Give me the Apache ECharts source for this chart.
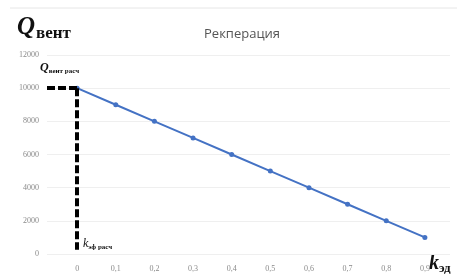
<!DOCTYPE html>
<html>
<head>
<meta charset="utf-8">
<script src="https://cdn.jsdelivr.net/npm/echarts@6/dist/echarts.min.js"></script>
<style>
  html, body { margin: 0; padding: 0; background: #fff; }
  #chart { width: 457px; height: 279px; }
</style>
</head>
<body>
<div id="chart"></div>
<script>
// коэффициент эффективности рекуператора
const kValues = [0, 0.1, 0.2, 0.3, 0.4, 0.5, 0.6, 0.7, 0.8, 0.9];
// расход вентиляционного воздуха
const qValues = [10000, 9000, 8000, 7000, 6000, 5000, 4000, 3000, 2000, 1000];
const qDesign = 10000;
const kDesign = 0;

let myChart = echarts.init(document.getElementById('chart'));

let option = {
  animation: false,
  title: {
    text: 'Рекперация',
    left: 237,
    textAlign: 'center',
    top: 23,
    textStyle: { fontFamily: 'Open Sans', fontSize: 13, fontWeight: 'normal', color: '#555' }
  },
  grid: { left: 47, right: 7, top: 55, bottom: 25 },
  xAxis: {
    type: 'value',
    min: -0.078,
    max: 0.965,
    axisLine: { show: false },
    axisTick: { show: false },
    splitLine: { show: false },
    axisLabel: {
      customValues: kValues,
      color: '#8a8a8a',
      fontSize: 8,
      fontFamily: 'Liberation Serif',
      margin: 11,
      formatter: v => String(Math.round(v * 10) / 10).replace('.', ',')
    }
  },
  yAxis: {
    type: 'value',
    min: 0,
    max: 12000,
    interval: 2000,
    axisLine: { show: false },
    axisTick: { show: false },
    axisLabel: {
      color: '#8a8a8a', fontSize: 8, fontFamily: 'Liberation Serif', margin: 8,
      formatter: v => String(v)
    },
    splitLine: { lineStyle: { color: '#efefef', width: 1 } }
  },
  series: [{
    type: 'line',
    data: kValues.map((k, i) => [k, qValues[i]]),
    lineStyle: { color: '#4472C4', width: 2 },
    itemStyle: { color: '#4472C4' },
    symbol: 'circle',
    symbolSize: 5,
    z: 3,
    markLine: {
      silent: true,
      symbol: ['none', 'none'],
      label: { show: false },
      lineStyle: { color: '#000', width: 4, type: [8, 3] },
      data: [
        [{ coord: [kDesign, qDesign] }, { coord: [kDesign, 250] }],
        [{ coord: [-0.078, qDesign] }, { coord: [kDesign, qDesign] }]
      ]
    }
  }],
  graphic: [
    {
      type: 'text', left: 17, top: 15,
      style: {
        text: '{q|Q}{s|вент}',
        rich: {
          q: { fontFamily: 'Liberation Serif', fontStyle: 'italic', fontWeight: 'bold', fontSize: 25, fill: '#111' },
          s: { fontFamily: 'Liberation Serif', fontWeight: 'bold', fontSize: 17, fill: '#111', padding: [12, 0, 0, 1] }
        }
      }
    },
    {
      type: 'text', left: 40, top: 62,
      style: {
        text: '{q|Q}{s|вент расч}',
        rich: {
          q: { fontFamily: 'Liberation Serif', fontStyle: 'italic', fontWeight: 'bold', fontSize: 12, fill: '#111' },
          s: { fontFamily: 'Liberation Serif', fontWeight: 'bold', fontSize: 7, fill: '#111', padding: [6, 0, 0, 0] }
        }
      }
    },
    {
      type: 'text', left: 83, top: 238,
      style: {
        text: '{q|k}{s|эф расч}',
        rich: {
          q: { fontFamily: 'Liberation Serif', fontStyle: 'italic', fontSize: 12, fill: '#111' },
          s: { fontFamily: 'Liberation Serif', fontWeight: 'bold', fontSize: 7, fill: '#111', padding: [6, 0, 0, 0] }
        }
      }
    },
    {
      type: 'text', left: 429, top: 254,
      style: {
        text: '{q|k}{s|эд}',
        rich: {
          q: { fontFamily: 'Liberation Serif', fontStyle: 'italic', fontWeight: 'bold', fontSize: 20, fill: '#111' },
          s: { fontFamily: 'Liberation Serif', fontWeight: 'bold', fontSize: 13, fill: '#111', padding: [9, 0, 0, 0] }
        }
      }
    },
    {
      type: 'line', silent: true,
      shape: { x1: 10, y1: 8, x2: 457, y2: 8 },
      style: { stroke: '#e6e6e6', lineWidth: 1 }
    }
  ]
};

myChart.setOption(option);
</script>
</body>
</html>
